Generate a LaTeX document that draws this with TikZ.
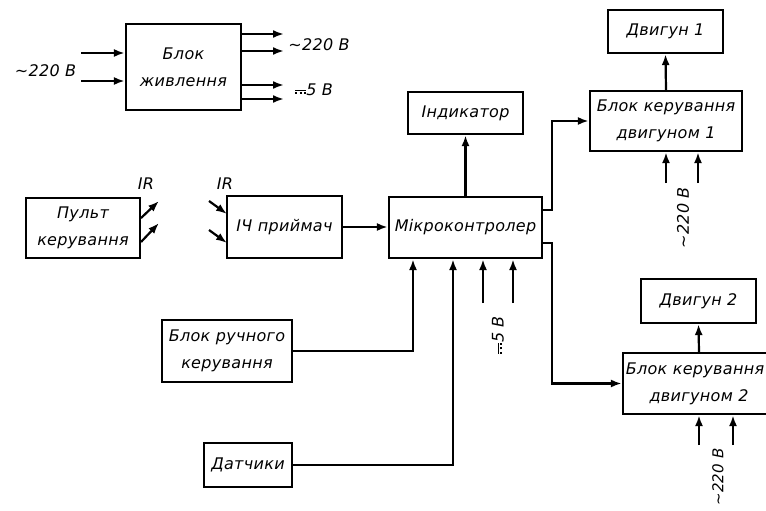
\documentclass[tikz,border=0pt]{standalone}
\usepackage{fontspec}
\newfontfamily\gost[LetterSpace=2]{DejaVu Sans}
\usetikzlibrary{arrows.meta}
\newcommand\dcsym{\raisebox{0.25ex}{\rlap{\rule[0.16em]{0.7em}{0.07em}}\rule{0.14em}{0.07em}\hspace{0.14em}\rule{0.14em}{0.07em}\hspace{0.14em}\rule{0.14em}{0.07em}}}
\tikzset{
  txt/.style={font=\gost\itshape\fontsize{16}{27}\selectfont, inner sep=0pt, align=center},
  box/.style={txt, draw, line width=2.2pt},
  wire/.style={line width=2.2pt},
  arr/.style={wire, -{Latex[length=11pt,width=8pt]}},
}
\begin{document}
\begin{tikzpicture}[x=1pt,y=-1pt]
\useasboundingbox (0,0) rectangle (766,511);
\clip (0,0) rectangle (766,511);
% boxes
\node[box, minimum width=115pt, minimum height=86pt] (pwr) at (183.5,67) {Блок\\живлення};
\node[box, minimum width=114pt, minimum height=60pt] (remote) at (83,228) {Пульт\\керування};
\node[box, minimum width=115pt, minimum height=62pt] (ir) at (284.5,227) {ІЧ приймач};
\node[box, minimum width=153pt, minimum height=61pt] (mc) at (465.5,227.5) {Мікроконтролер};
\node[box, minimum width=115pt, minimum height=42pt] (ind) at (465.5,113) {Індикатор};
\node[box, minimum width=115pt, minimum height=43pt] (m1) at (665.5,31.5) {Двигун 1};
\node[box, minimum width=152pt, minimum height=60pt] (bk1) at (666,121) {Блок керування\\двигуном 1};
\node[box, minimum width=115pt, minimum height=44pt] (m2) at (698.5,301) {Двигун 2};
\node[box, minimum width=152pt, minimum height=61pt] (bk2) at (699,383.5) {Блок керування\hspace*{8pt}\\двигуном 2};
\node[box, minimum width=130pt, minimum height=62pt] (man) at (227,351) {Блок ручного\\керування};
\node[box, minimum width=88pt, minimum height=44pt] (sens) at (248,465) {Датчики};
% power block inputs and outputs
\coordinate (pi1) at (81,53);
\coordinate (pi2) at (81,81);
\draw[arr] (pi1) -- (pi1 -| pwr.west);
\draw[arr] (pi2) -- (pi2 -| pwr.west);
\node[txt] (lin) at (45.5,71) {\textasciitilde220 В};
\coordinate (po1) at (284,34);
\coordinate (po2) at (284,51);
\coordinate (po3) at (284,85);
\coordinate (po4) at (284,99);
\draw[arr] (po1 -| pwr.east) -- (po1);
\draw[arr] (po2 -| pwr.east) -- (po2);
\draw[arr] (po3 -| pwr.east) -- (po3);
\draw[arr] (po4 -| pwr.east) -- (po4);
\node[txt] (lo1) at (319,45) {\textasciitilde220 В};
\node[txt] (lo2) at (314,90) {\dcsym5 В};
% IR
\coordinate (r1s) at (141,218);
\coordinate (r1e) at (159,201);
\coordinate (r2s) at (141,242);
\coordinate (r2e) at (159,223);
\draw[arr] (r1s) -- (r1e);
\draw[arr] (r2s) -- (r2e);
\node[txt] (irl1) at (146,184) {IR};
\coordinate (q1s) at (209,201);
\coordinate (q1e) at (227,214);
\coordinate (q2s) at (209,230);
\coordinate (q2e) at (227,243);
\draw[arr] (q1s) -- (q1e);
\draw[arr] (q2s) -- (q2e);
\node[txt] (irl2) at (225,184) {IR};
\draw[arr] (ir.east) -- (ir.east -| mc.west);
% microcontroller outputs
\draw[arr] (mc.north) -- (ind.south);
\coordinate (j1) at (552,210);
\coordinate (j2) at (552,243);
\draw[arr] (j1 -| mc.east) -- (j1) |- (bk1.west);
\draw[arr] (j2 -| mc.east) -- (j2) |- (bk2.west);
\draw[arr] (bk1.north) -- (m1.south);
\draw[arr] (bk2.north) -- (m2.south);
% motor power
\coordinate (b1a) at (666,183);
\coordinate (b1b) at (698,183);
\draw[arr] (b1a) -- (b1a |- bk1.south);
\draw[arr] (b1b) -- (b1b |- bk1.south);
\node[txt, rotate=90] (lb1) at (683,218) {\textasciitilde220 В};
\coordinate (b2a) at (699,445);
\coordinate (b2b) at (733,445);
\draw[arr] (b2a) -- (b2a |- bk2.south);
\draw[arr] (b2b) -- (b2b |- bk2.south);
\node[txt, rotate=90, font=\gost\itshape\fontsize{15}{27}\selectfont] (lb2) at (718,477) {\textasciitilde220 В};
% inputs to MC
\coordinate (k1) at (413,351);
\coordinate (k2) at (453,465);
\draw[arr] (man.east) -- (k1) -- (k1 |- mc.south);
\draw[arr] (sens.east) -- (k2) -- (k2 |- mc.south);
\coordinate (v1) at (483,303);
\coordinate (v2) at (513,303);
\draw[arr] (v1) -- (v1 |- mc.south);
\draw[arr] (v2) -- (v2 |- mc.south);
\node[txt, rotate=90] (lv) at (498,335) {\dcsym5 В};
\end{tikzpicture}
\end{document}
